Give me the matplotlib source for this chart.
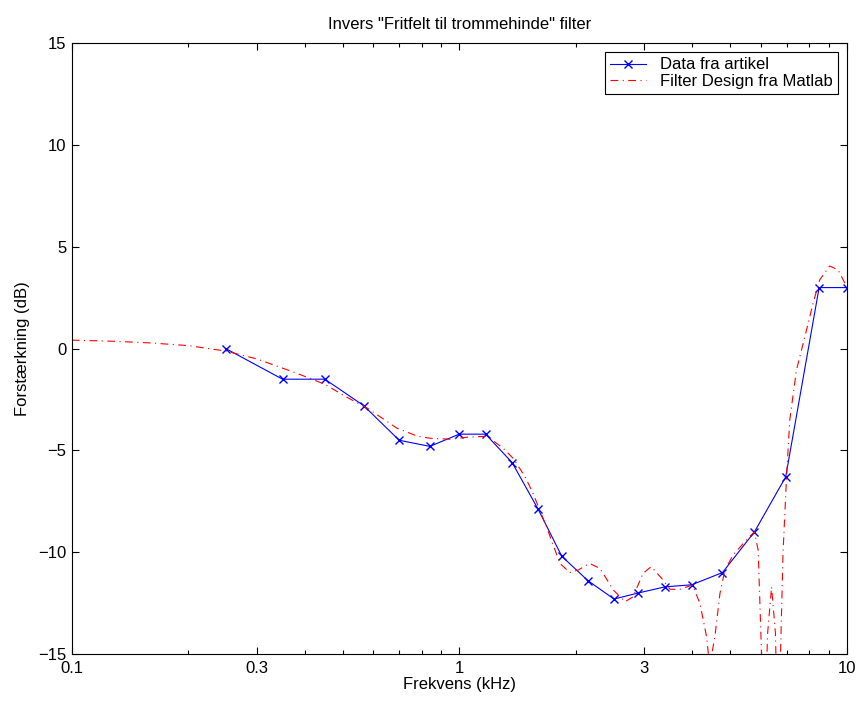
import matplotlib
matplotlib.use("Agg")
import matplotlib.pyplot as plt
from matplotlib.ticker import FixedLocator, FixedFormatter, NullFormatter

plt.rcParams['font.family'] = ['Liberation Sans', 'DejaVu Sans']

# Data fra artikel (kHz, dB)
data_freq = [0.25, 0.35, 0.45, 0.567, 0.70, 0.84, 1.0, 1.17, 1.37, 1.60, 1.84,
             2.15, 2.51, 2.90, 3.40, 3.98, 4.78, 5.78, 6.96, 8.49, 10.0]
data_gain = [0.0, -1.5, -1.5, -2.8, -4.5, -4.8, -4.2, -4.2, -5.6, -7.9, -10.2,
             -11.4, -12.3, -12.0, -11.7, -11.6, -11.0, -9.0, -6.3, 3.0, 3.0]

# Filter Design fra Matlab (aflæst kurve)
filt_freq = [0.10, 0.13, 0.16, 0.20, 0.25, 0.30, 0.38, 0.45, 0.51, 0.58, 0.69,
             0.78, 0.84, 0.95, 1.05, 1.18, 1.30, 1.38, 1.48, 1.55, 1.68, 1.82,
             1.93, 2.03, 2.17, 2.31, 2.50, 2.68, 2.81, 2.98, 3.13, 3.33, 3.50,
             3.71, 4.00, 4.18, 4.35, 4.43, 4.57, 4.71, 4.85, 5.09, 5.51, 5.78,
             5.91, 6.03, 6.12, 6.25, 6.40, 6.55, 6.65, 6.75, 6.85, 6.99, 7.13,
             7.42, 7.80, 8.19, 8.52, 9.04, 9.50, 10.0]
filt_gain = [0.42, 0.36, 0.28, 0.15, -0.12, -0.5, -1.2, -1.75, -2.36, -2.93, -3.9,
             -4.3, -4.4, -4.45, -4.35, -4.3, -4.9, -5.4, -6.3, -7.1, -8.75, -10.55,
             -11.0, -10.87, -10.55, -10.8, -11.86, -12.43, -12.19, -11.04, -10.71, -11.28, -11.82,
             -11.82, -11.61, -12.51, -14.15, -15.6, -14.15, -12.02, -10.87, -10.14, -9.4, -9.0,
             -9.9, -15.0, -20.0, -14.0, -11.7, -14.0, -20.0, -15.0, -10.05, -6.45, -3.5,
             -1.05, 0.59, 2.23, 3.38, 4.06, 3.87, 3.05]

fs = 12

fig = plt.figure(figsize=(8.6, 7.04), dpi=100)
ax = fig.add_axes([0.0834, 0.071, 0.9011, 0.8675])

ax.semilogx(data_freq, data_gain, color='blue', marker='x', markersize=6,
            linewidth=0.8, label='Data fra artikel')
ax.semilogx(filt_freq, filt_gain, color='red', linestyle=(0, (7, 4, 1, 4)),
            linewidth=0.8, label='Filter Design fra Matlab')

ax.set_xlim(0.1, 10)
ax.set_ylim(-15, 15)

major = [0.1, 0.3, 1, 3, 10]
minor = [0.2, 0.4, 0.5, 0.6, 0.7, 0.8, 0.9, 2, 4, 5, 6, 7, 8, 9]
ax.xaxis.set_major_locator(FixedLocator(major))
ax.xaxis.set_major_formatter(FixedFormatter(['0.1', '0.3', '1', '3', '10']))
ax.xaxis.set_minor_locator(FixedLocator(minor))
ax.xaxis.set_minor_formatter(NullFormatter())
ax.set_yticks([-15, -10, -5, 0, 5, 10, 15])

ax.tick_params(which='both', direction='in', top=True, right=True, labelsize=fs)
ax.tick_params(which='major', length=5, width=0.8)
ax.tick_params(which='minor', length=3, width=0.8)
ax.tick_params(axis='x', which='major', pad=5)
ax.tick_params(axis='y', which='major', pad=4)
for s in ax.spines.values():
    s.set_linewidth(0.8)

ax.set_xlabel('Frekvens (kHz)', fontsize=fs, labelpad=1)
ax.set_ylabel('Forstærkning (dB)', fontsize=fs, labelpad=6)
ax.set_title('Invers "Fritfelt til trommehinde" filter', fontsize=fs, pad=10)

leg = ax.legend(loc='upper right', fontsize=fs, fancybox=False, framealpha=1,
                edgecolor='black', handlelength=2.2, borderaxespad=0.55,
                borderpad=0.3, labelspacing=0.1)
leg.get_frame().set_linewidth(0.8)

fig.savefig('out.png', dpi=100)
